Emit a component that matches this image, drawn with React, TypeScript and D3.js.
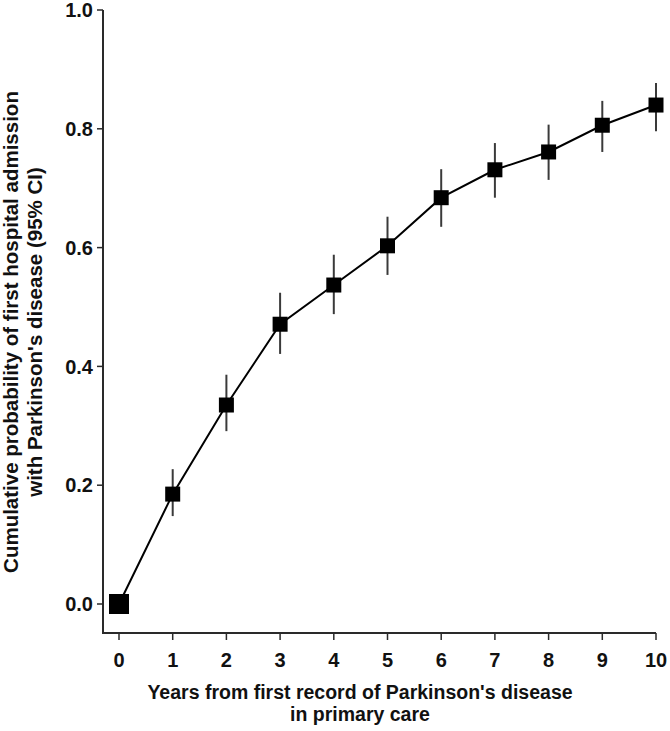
import React from 'react';
import * as d3 from 'd3';

const years = [0, 1, 2, 3, 4, 5, 6, 7, 8, 9, 10];
const prob = [0, 0.185, 0.335, 0.471, 0.537, 0.603, 0.684, 0.731, 0.761, 0.806, 0.84];
const lower = [0, 0.148, 0.291, 0.421, 0.488, 0.554, 0.635, 0.684, 0.714, 0.761, 0.796];
const upper = [0, 0.227, 0.386, 0.524, 0.588, 0.652, 0.732, 0.776, 0.807, 0.847, 0.877];
const yTicks = [0, 0.2, 0.4, 0.6, 0.8, 1.0];

const W = 670;
const H = 731;
const FONT = '"Liberation Sans", Arial, Helvetica, sans-serif';

const App = () => {
  const svgRef = React.useRef<SVGSVGElement>(null);

  React.useEffect(() => {
    const svg = d3.select(svgRef.current);
    svg.selectAll('*').remove();

    const x = d3.scaleLinear().domain([0, 10]).range([119, 656]);
    const y = d3.scaleLinear().domain([0, 1]).range([604, 10]);
    const axisX0 = 103;
    const axisY0 = 633;
    const axisColor = '#2a2a2a';

    // axis lines
    svg.append('line')
      .attr('x1', axisX0).attr('x2', axisX0)
      .attr('y1', y(1)).attr('y2', axisY0)
      .attr('stroke', axisColor).attr('stroke-width', 2);
    svg.append('line')
      .attr('x1', axisX0 - 1).attr('x2', x(10))
      .attr('y1', axisY0).attr('y2', axisY0)
      .attr('stroke', axisColor).attr('stroke-width', 2);

    // y ticks
    const yt = svg.append('g').selectAll('g').data(yTicks).enter().append('g');
    yt.append('line')
      .attr('x1', axisX0 - 6).attr('x2', axisX0)
      .attr('y1', (d) => y(d)).attr('y2', (d) => y(d))
      .attr('stroke', axisColor).attr('stroke-width', 1.5);
    yt.append('text')
      .attr('x', axisX0 - 10)
      .attr('y', (d) => y(d))
      .attr('dy', '0.36em')
      .attr('text-anchor', 'end')
      .style('font-family', FONT).style('font-weight', 'bold').style('font-size', '20px')
      .attr('fill', '#111')
      .text((d) => d3.format('.1f')(d));

    // x ticks
    const xt = svg.append('g').selectAll('g').data(years).enter().append('g');
    xt.append('line')
      .attr('x1', (d) => x(d)).attr('x2', (d) => x(d))
      .attr('y1', axisY0).attr('y2', axisY0 + 7)
      .attr('stroke', axisColor).attr('stroke-width', 1.5);
    xt.append('text')
      .attr('x', (d) => x(d))
      .attr('y', 667)
      .attr('text-anchor', 'middle')
      .style('font-family', FONT).style('font-weight', 'bold').style('font-size', '20px')
      .attr('fill', '#111')
      .text((d) => d);

    // error bars
    svg.append('g').selectAll('line').data(years.slice(1)).enter().append('line')
      .attr('x1', (d) => x(d)).attr('x2', (d) => x(d))
      .attr('y1', (d) => y(lower[d])).attr('y2', (d) => y(upper[d]))
      .attr('stroke', '#3a3a3a').attr('stroke-width', 2);

    // line
    const line = d3.line<number>().x((d) => x(d)).y((d) => y(prob[d]));
    svg.append('path')
      .datum(years)
      .attr('d', line)
      .attr('fill', 'none')
      .attr('stroke', '#000')
      .attr('stroke-width', 2);

    // markers
    svg.append('g').selectAll('rect').data(years).enter().append('rect')
      .attr('x', (d) => x(d) - (d === 0 ? 10 : 7.5))
      .attr('y', (d) => y(prob[d]) - (d === 0 ? 10 : 7.5))
      .attr('width', (d) => (d === 0 ? 20 : 15))
      .attr('height', (d) => (d === 0 ? 20 : 15))
      .attr('fill', '#000');

    // x title
    const tx = 360;
    const xTitle = svg.append('text')
      .attr('y', 699)
      .attr('text-anchor', 'middle')
      .style('font-family', FONT).style('font-weight', 'bold').style('font-size', '19.5px')
      .attr('fill', '#111');
    xTitle.append('tspan').attr('x', tx).attr('dy', 0)
      .text("Years from first record of Parkinson's disease");
    xTitle.append('tspan').attr('x', tx).attr('dy', 22)
      .text('in primary care');

    // y title
    const cy = 332;
    const yTitle = svg.append('text')
      .attr('transform', `translate(18,${cy}) rotate(-90)`)
      .attr('text-anchor', 'middle')
      .style('font-family', FONT).style('font-weight', 'bold').style('font-size', '20.5px')
      .attr('fill', '#111');
    yTitle.append('tspan').attr('x', 0).attr('y', 0)
      .text('Cumulative probability of first hospital admission');
    yTitle.append('tspan').attr('x', 0).attr('y', 24)
      .text("with Parkinson's disease (95% CI)");
  }, []);

  return (
    <svg
      ref={svgRef}
      width={W}
      height={H}
      style={{ position: 'absolute', left: 0, top: 0, background: '#fff' }}
    />
  );
};

export default App;
